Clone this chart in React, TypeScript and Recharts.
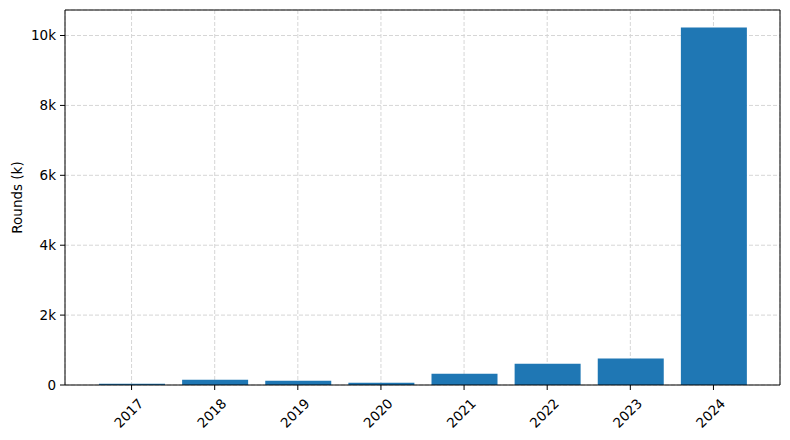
import { BarChart, Bar, XAxis, YAxis, CartesianGrid, Label } from "recharts";

const years = ["2017", "2018", "2019", "2020", "2021", "2022", "2023", "2024"];
const rounds = [37, 150, 125, 65, 325, 610, 755, 10230];
const yTicks = [0, 2000, 4000, 6000, 8000, 10000];
const yMax = 10730;

const data = years.map((year, i) => ({ year, rounds: rounds[i] }));

const font = "DejaVu Sans, sans-serif";

function YearTick(props: any) {
  const { x, y, payload } = props;
  return (
    <text
      transform={`translate(${x - 3},${y + 21}) rotate(-45)`}
      textAnchor="middle"
      dominantBaseline="central"
      fontSize={13.5}
      fontFamily={font}
      fill="#000"
    >
      {payload.value}
    </text>
  );
}

export default function App() {
  return (
    <div style={{ position: "absolute", left: 0, top: 0, background: "#fff" }}>
      <BarChart
        width={790}
        height={440}
        data={data}
        margin={{ top: 9, right: 9, bottom: 0, left: 0 }}
      >
        <XAxis
          dataKey="year"
          height={55}
          padding={{ left: 25, right: 25 }}
          tickSize={5}
          tickMargin={2}
          tick={<YearTick />}
          interval={0}
          axisLine={{ stroke: "#000" }}
          tickLine={{ stroke: "#000" }}
        />
        <XAxis
          xAxisId="top"
          orientation="top"
          dataKey="year"
          height={1}
          padding={{ left: 25, right: 25 }}
          tick={false}
          tickLine={false}
          axisLine={{ stroke: "#000" }}
        />
        <YAxis
          width={65}
          domain={[0, yMax]}
          ticks={yTicks}
          tickFormatter={(v: number) => (v === 0 ? "0" : `${v / 1000}k`)}
          tickSize={5}
          tickMargin={4}
          tick={{ fontSize: 13.5, fontFamily: font, fill: "#000" }}
          axisLine={{ stroke: "#000" }}
          tickLine={{ stroke: "#000" }}
          allowDataOverflow
        >
          <Label
            value="Rounds (k)"
            angle={-90}
            position="insideLeft"
            offset={17}
            style={{ textAnchor: "middle", fontSize: 13.5, fontFamily: font, fill: "#000" }}
          />
        </YAxis>
        <YAxis
          yAxisId="right"
          orientation="right"
          width={1}
          domain={[0, yMax]}
          tick={false}
          tickLine={false}
          axisLine={{ stroke: "#000" }}
        />
        <Bar dataKey="rounds" fill="#1f77b4" barSize={66} isAnimationActive={false} />
        <CartesianGrid stroke="#d6d6d6" strokeDasharray="4 2" fill="none" />
      </BarChart>
    </div>
  );
}
